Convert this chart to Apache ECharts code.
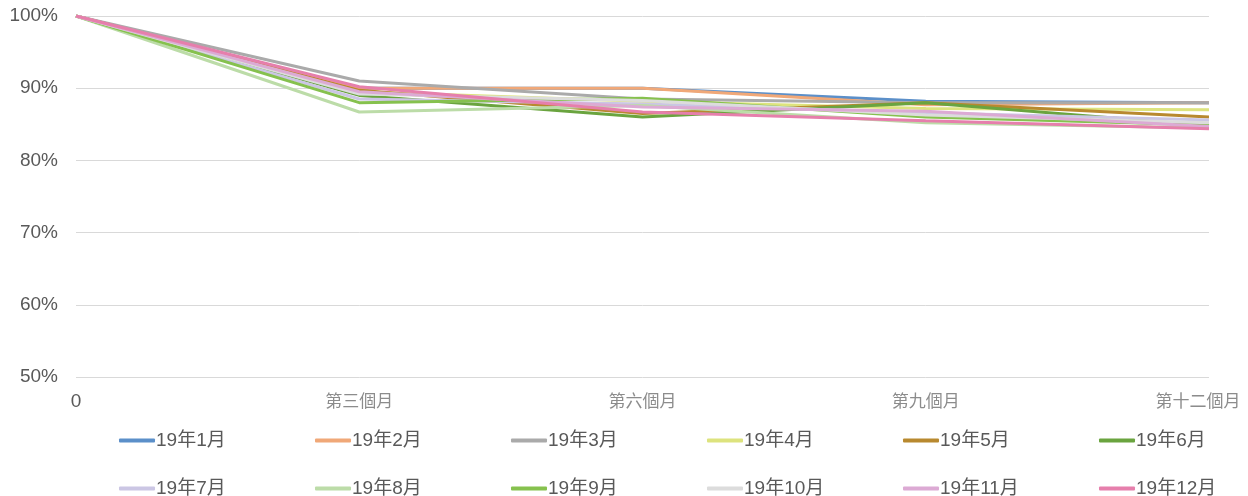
<!DOCTYPE html>
<html>
<head>
<meta charset="utf-8">
<title>留存率</title>
<script src="https://cdn.jsdelivr.net/npm/echarts@6/dist/echarts.min.js"></script>
<style>
    html, body { margin: 0; padding: 0; background: #fff; }
    #main { width: 1248px; height: 496px; }
</style>
</head>
<body>
<div id="main"></div>
<script>
    // x軸
    var categories = ['0', '第三個月', '第六個月', '第九個月', '第十二個月'];
    var yTicks = [50, 60, 70, 80, 90, 100];

    var names = ['19年1月', '19年2月', '19年3月', '19年4月', '19年5月', '19年6月',
                 '19年7月', '19年8月', '19年9月', '19年10月', '19年11月', '19年12月'];

    var m01 = [100, 90.0, 90.0, 88.2, 88.0];
    var m02 = [100, 90.0, 90.0, 87.7, 88.0];
    var m03 = [100, 91.0, 88.5, 88.0, 88.0];
    var m04 = [100, 89.5, 88.2, 87.2, 87.0];
    var m05 = [100, 89.7, 86.5, 88.0, 86.0];
    var m06 = [100, 89.0, 86.0, 88.0, 84.8];
    var m07 = [100, 88.5, 87.8, 86.6, 85.6];
    var m08 = [100, 86.7, 87.6, 85.2, 84.5];
    var m09 = [100, 88.0, 88.6, 86.0, 84.9];
    var m10 = [100, 89.2, 88.3, 86.3, 85.2];
    var m11 = [100, 89.5, 87.4, 86.8, 84.7];
    var m12 = [100, 90.2, 86.7, 85.5, 84.4];

    var values = [m01, m02, m03, m04, m05, m06, m07, m08, m09, m10, m11, m12];
    var colors = ['#5b8fc9', '#f0a878', '#aaaaaa', '#dde37e', '#b8892f', '#6aa43f',
                  '#cbc6e4', '#bcdca8', '#86c14e', '#dcdcdc', '#dcaad4', '#e67fac'];

    var latin = 'Liberation Sans, Arial, Noto Sans CJK TC, sans-serif';

    var myChart = echarts.init(document.getElementById('main'));

    var series = [];
    var legends = [];
    for (var i = 0; i < names.length; i++) {
        series.push({
            name: names[i],
            type: 'line',
            data: values[i],
            symbol: 'none',
            lineStyle: { width: 3, color: colors[i] },
            itemStyle: { color: colors[i] }
        });
        // 一個圖例一格，6個一行
        legends.push({
            data: [names[i]],
            left: 114 + 196 * (i % 6),
            top: i < 6 ? 426 : 474,
            icon: 'roundRect',
            itemWidth: 36,
            itemHeight: 4,
            textStyle: {
                color: '#595959',
                fontSize: 19,
                fontFamily: latin,
                padding: [0, 0, 0, -4]
            }
        });
    }

    var option = {
        animation: false,
        color: colors,
        grid: { left: 76, right: 39, top: 16, bottom: 119 },
        legend: legends,
        xAxis: {
            type: 'category',
            boundaryGap: false,
            data: categories,
            axisLine: { show: false },
            axisTick: { show: false },
            axisLabel: {
                margin: 15,
                interval: 0,
                formatter: function (v, idx) {
                    if (idx === 0) return '{zero|' + v + '}';
                    if (idx === categories.length - 1) return '{last|' + v + '}';
                    return '{cn|' + v + '}';
                },
                rich: {
                    zero: { fontSize: 19, color: '#595959', fontFamily: latin },
                    cn: { fontSize: 17, color: '#8c8c8c', fontFamily: 'Noto Sans CJK TC' },
                    last: { fontSize: 17, color: '#8c8c8c', fontFamily: 'Noto Sans CJK TC', padding: [0, 22, 0, 0] }
                }
            }
        },
        yAxis: {
            type: 'value',
            min: yTicks[0],
            max: yTicks[yTicks.length - 1],
            interval: 10,
            axisLine: { show: false },
            axisTick: { show: false },
            splitLine: { lineStyle: { color: '#d9d9d9', width: 1 } },
            axisLabel: {
                margin: 18,
                formatter: '{value}%',
                color: '#595959',
                fontSize: 19,
                fontFamily: latin
            }
        },
        series: series
    };

    myChart.setOption(option);
</script>
</body>
</html>
